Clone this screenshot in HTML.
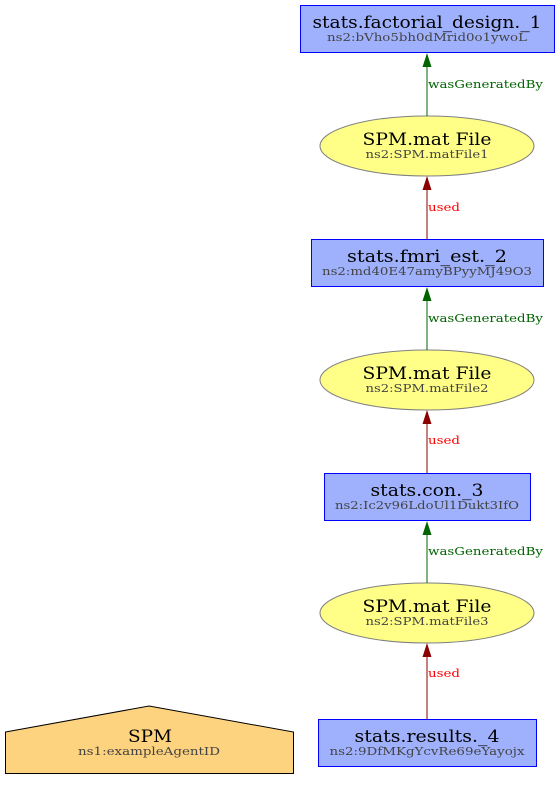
<!DOCTYPE html>
<html><head><meta charset="utf-8"><style>body{margin:0;background:#fff}svg{display:block}</style></head><body>
<svg width="559" height="786" viewBox="0 0 559 786" xmlns="http://www.w3.org/2000/svg" font-family="DejaVu Serif, serif">
<g text-anchor="middle">
<rect x="300.5" y="5.5" width="254" height="47" fill="#9fb1fc" stroke="#0000ff"/>
<text x="427" y="28" font-size="17" textLength="229" lengthAdjust="spacingAndGlyphs">stats.factorial_design._1</text>
<text x="427" y="41" font-size="11" fill="#444" textLength="200" lengthAdjust="spacingAndGlyphs">ns2:bVho5bh0dMrid0o1ywoL</text>
<ellipse cx="427" cy="146" rx="107" ry="30" fill="#ffff88" stroke="#808080"/>
<text x="427" y="145" font-size="17" textLength="129" lengthAdjust="spacingAndGlyphs">SPM.mat File</text>
<text x="427" y="158" font-size="11" fill="#444" textLength="123" lengthAdjust="spacingAndGlyphs">ns2:SPM.matFile1</text>
<rect x="311.5" y="239.5" width="232" height="47" fill="#9fb1fc" stroke="#0000ff"/>
<text x="427" y="262" font-size="17" textLength="160" lengthAdjust="spacingAndGlyphs">stats.fmri_est._2</text>
<text x="427" y="275" font-size="11" fill="#444" textLength="210" lengthAdjust="spacingAndGlyphs">ns2:md40E47amyBPyyMJ49O3</text>
<ellipse cx="427" cy="380" rx="107" ry="30" fill="#ffff88" stroke="#808080"/>
<text x="427" y="379" font-size="17" textLength="129" lengthAdjust="spacingAndGlyphs">SPM.mat File</text>
<text x="427" y="392" font-size="11" fill="#444" textLength="123" lengthAdjust="spacingAndGlyphs">ns2:SPM.matFile2</text>
<rect x="324.5" y="473.5" width="206" height="47" fill="#9fb1fc" stroke="#0000ff"/>
<text x="427" y="496" font-size="17" textLength="113" lengthAdjust="spacingAndGlyphs">stats.con._3</text>
<text x="427" y="509" font-size="11" fill="#444" textLength="184" lengthAdjust="spacingAndGlyphs">ns2:Ic2v96LdoUl1Dukt3IfO</text>
<ellipse cx="427" cy="613" rx="107" ry="30" fill="#ffff88" stroke="#808080"/>
<text x="427" y="612" font-size="17" textLength="129" lengthAdjust="spacingAndGlyphs">SPM.mat File</text>
<text x="427" y="625" font-size="11" fill="#444" textLength="123" lengthAdjust="spacingAndGlyphs">ns2:SPM.matFile3</text>
<rect x="318.5" y="719.5" width="218" height="47" fill="#9fb1fc" stroke="#0000ff"/>
<text x="427" y="742" font-size="17" textLength="145" lengthAdjust="spacingAndGlyphs">stats.results._4</text>
<text x="427" y="755" font-size="11" fill="#444" textLength="195" lengthAdjust="spacingAndGlyphs">ns2:9DfMKgYcvRe69eYayojx</text>
<polygon points="5.5,732 149,706 293.5,732 293.5,773.5 5.5,773.5" fill="#fed37f" stroke="#000"/>
<text x="150" y="742" font-size="17" textLength="44" lengthAdjust="spacingAndGlyphs">SPM</text>
<text x="149" y="755" font-size="11" fill="#444" textLength="142" lengthAdjust="spacingAndGlyphs">ns1:exampleAgentID</text>
</g>
<g stroke-width="1">
<line x1="427" y1="116" x2="427" y2="66" stroke="#006400"/>
<polygon points="422.5,67 431.5,67 427,53" fill="#006400"/>
<line x1="427" y1="239" x2="427" y2="189" stroke="#8b0000"/>
<polygon points="422.5,190 431.5,190 427,176" fill="#8b0000"/>
<line x1="427" y1="350" x2="427" y2="300" stroke="#006400"/>
<polygon points="422.5,301 431.5,301 427,287" fill="#006400"/>
<line x1="427" y1="473" x2="427" y2="423" stroke="#8b0000"/>
<polygon points="422.5,424 431.5,424 427,410" fill="#8b0000"/>
<line x1="427" y1="583" x2="427" y2="534" stroke="#006400"/>
<polygon points="422.5,535 431.5,535 427,521" fill="#006400"/>
<line x1="427" y1="719" x2="427" y2="657" stroke="#8b0000"/>
<polygon points="422.5,657 431.5,657 427,643" fill="#8b0000"/>
</g>
<g font-size="11">
<text x="428" y="88" fill="#006400" textLength="115" lengthAdjust="spacingAndGlyphs">wasGeneratedBy</text>
<text x="428" y="211" fill="#ff0000" textLength="32" lengthAdjust="spacingAndGlyphs">used</text>
<text x="428" y="322" fill="#006400" textLength="115" lengthAdjust="spacingAndGlyphs">wasGeneratedBy</text>
<text x="428" y="444" fill="#ff0000" textLength="32" lengthAdjust="spacingAndGlyphs">used</text>
<text x="428" y="555" fill="#006400" textLength="115" lengthAdjust="spacingAndGlyphs">wasGeneratedBy</text>
<text x="428" y="677" fill="#ff0000" textLength="32" lengthAdjust="spacingAndGlyphs">used</text>
</g>
</svg>
</body></html>
